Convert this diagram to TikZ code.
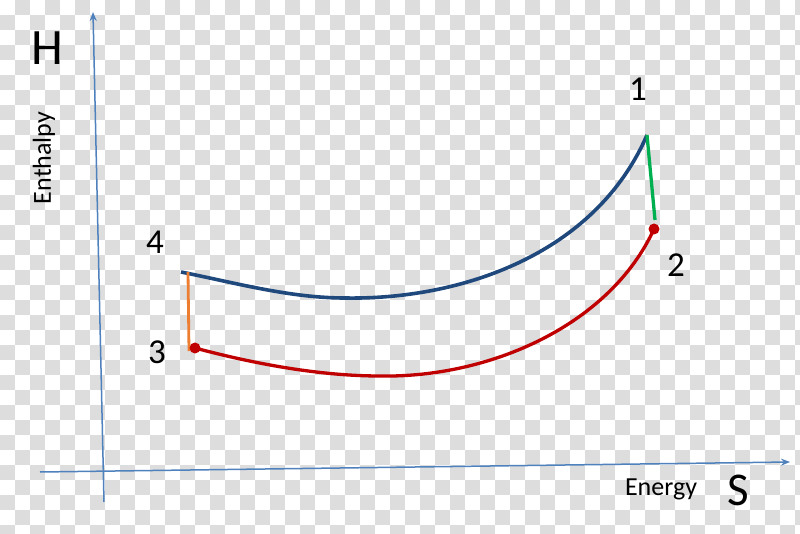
\documentclass[tikz,border=0pt]{standalone}
\usepackage{fontspec}
\setmainfont{Carlito}
\definecolor{checkgray}{RGB}{221,221,221}
\definecolor{axisblue}{RGB}{79,129,189}
\definecolor{curveblue}{RGB}{31,73,125}
\definecolor{curvered}{RGB}{192,0,0}
\definecolor{linegreen}{RGB}{0,176,80}
\definecolor{lineorange}{RGB}{237,125,49}
\tikzset{
  axisline/.style={draw=axisblue,line width=1.5pt,-{Stealth[length=9pt,width=7pt,inset=3pt]}},
  bluecurve/.style={draw=curveblue,line width=3.6pt},
  redcurve/.style={draw=curvered,line width=3.3pt},
  ptlabel/.style={font=\fontsize{35}{35}\selectfont,anchor=base,inner sep=0pt},
  bigletter/.style={anchor=base,inner sep=0pt},
  axislabel/.style={font=\fontsize{26}{26}\selectfont,inner sep=0pt},
  dot/.style={circle,fill=curvered,inner sep=0pt,minimum size=11pt}
}
\usetikzlibrary{arrows.meta}
\begin{document}
\begin{tikzpicture}[x=1pt,y=-1pt]
\useasboundingbox (0,0) rectangle (800,534);
\fill[white] (0,0) rectangle (800,534);
\begin{scope}
\clip (0,0) rectangle (800,534);
\foreach \a in {0,...,26}{
  \foreach \b in {0,...,17}{
    \fill[checkgray] (30*\a+15,30*\b) rectangle +(15,15);
    \fill[checkgray] (30*\a,30*\b+15) rectangle +(15,15);
  }
}
\end{scope}
% axes
\coordinate (ybot) at (104,502);
\coordinate (ytop) at (93,12);
\coordinate (xleft) at (40,472);
\coordinate (xright) at (790,462);
\draw[axisline] (ybot) -- (ytop);
\draw[axisline] (xleft) -- (xright);
% labels
\node[bigletter,font=\fontsize{51}{51}\selectfont] (H) at (47,65) {H};
\node[bigletter,font=\fontsize{47}{47}\selectfont] (S) at (738,505) {S};
\node[axislabel,anchor=base] (energy) at (661,495) {Energy};
\node[axislabel,rotate=90] (enthalpy) at (44,158) {Enthalpy};
% points
\coordinate (p1) at (647,135);
\coordinate (p2g) at (655,220);
\coordinate (p2) at (654,229);
\coordinate (p3) at (195,348);
\coordinate (p4) at (181,272);
\coordinate (bmin) at (345,298);
\coordinate (rmin) at (380,376);
\coordinate (o4) at (188,272);
\coordinate (o3) at (189,351);
% curves
\draw[bluecurve] (p4) .. controls (236,283) and (290,298) .. (bmin)
  .. controls (460,300) and (595,255) .. (p1);
\draw[redcurve] (p3) .. controls (255,364) and (320,376) .. (rmin)
  .. controls (490,378) and (610,325) .. (p2);
\draw[linegreen,line width=3.3pt] (p1) -- (p2g);
\draw[lineorange,line width=2.8pt] (o4) -- (o3);
\node[dot] (d2) at (p2) {};
\node[dot] (d3) at (p3) {};
\node[ptlabel] (l1) at (638,101) {1};
\node[ptlabel] (l2) at (676,277) {2};
\node[ptlabel] (l3) at (157,363) {3};
\node[ptlabel] (l4) at (155,254) {4};
\end{tikzpicture}
\end{document}
